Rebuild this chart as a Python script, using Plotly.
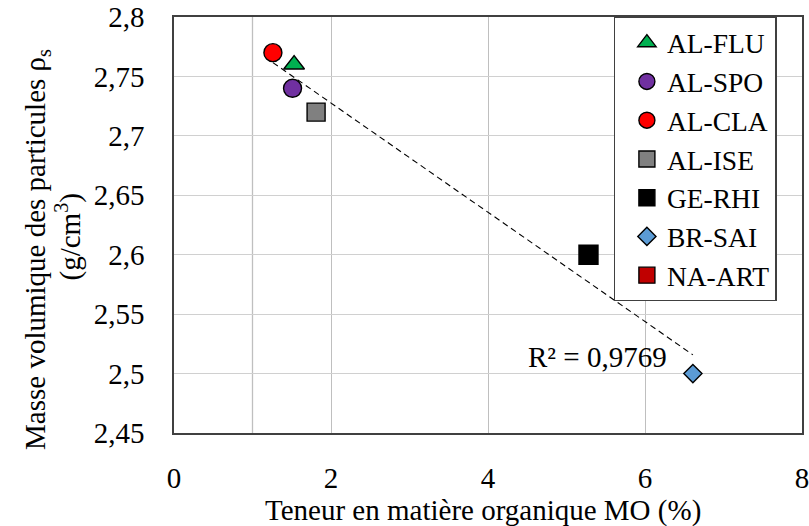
import numpy as np
import plotly.graph_objects as go

# données
samples = ["AL-FLU", "AL-SPO", "AL-CLA", "AL-ISE", "GE-RHI", "BR-SAI", "NA-ART"]
mo = [1.53, 1.51, 1.26, 1.81, 5.28, 6.61, None]          # teneur en MO (%)
rho = [2.76, 2.74, 2.77, 2.72, 2.60, 2.50, None]         # masse volumique (g/cm3)
r2_label = "R² = 0,9769"

x_ticks = [0, 2, 4, 6, 8]
x_ticktext = ["0", "2", "4", "6", "8"]
y_ticks = [2.45, 2.5, 2.55, 2.6, 2.65, 2.7, 2.75, 2.8]
y_ticktext = ["2,45", "2,5", "2,55", "2,6", "2,65", "2,7", "2,75", "2,8"]

# style des marqueurs (symbole, couleur, taille)
styles = {
    "AL-FLU": ("triangle-up", "#00B050", 18),
    "AL-SPO": ("circle", "#7030A0", 18),
    "AL-CLA": ("circle", "#FF0000", 18),
    "AL-ISE": ("square", "#808080", 18),
    "GE-RHI": ("square", "#000000", 19),
    "BR-SAI": ("diamond", "#5B9BD5", 14),
    "NA-ART": ("square", "#C00000", 18),
}

FONT = "Times New Roman, Liberation Serif, serif"
FS = 29

fig = go.Figure()

for name, x, y in zip(samples, mo, rho):
    sym, col, size = styles[name]
    fig.add_trace(go.Scatter(
        x=[x], y=[y], name=name, mode="markers",
        marker=dict(symbol=sym, color=col, size=size,
                    line=dict(color="black", width=1.4)),
    ))

# courbe de tendance linéaire
xs = np.array([v for v in mo if v is not None])
ys = np.array([v for v in rho if v is not None])
a, b = np.polyfit(xs, ys, 1)
xl = np.array([xs.min(), xs.max()])
fig.add_trace(go.Scatter(
    x=xl, y=a * xl + b, mode="lines", showlegend=False, hoverinfo="skip",
    line=dict(color="black", width=1.1, dash="6px,4px"),
))

fig.add_annotation(
    text=r2_label, x=6.31, y=2.514, xanchor="right", yanchor="middle",
    showarrow=False, font=dict(family=FONT, size=FS, color="black"),
)

# titre de l'axe X
fig.add_annotation(
    text="Teneur en matière organique MO (%)",
    xref="paper", yref="paper", x=0.4917, y=0, yshift=-77,
    xanchor="center", yanchor="middle", showarrow=False,
    font=dict(family=FONT, size=FS, color="black"),
)

# titre de l'axe Y (deux lignes, rapprochées comme dans l'original)
fig.add_annotation(
    text="Masse volumique des particules ρ<sub>s</sub>",
    xref="paper", yref="paper", x=0, y=0.44, xshift=-137,
    xanchor="center", yanchor="middle", textangle=-90, showarrow=False,
    font=dict(family=FONT, size=FS, color="black"),
)
fig.add_annotation(
    text="(g/cm<sup>3</sup>)",
    xref="paper", yref="paper", x=0, y=0.47, xshift=-106,
    xanchor="center", yanchor="middle", textangle=-90, showarrow=False,
    font=dict(family=FONT, size=FS, color="black"),
)

# grille verticale supplémentaire à x=1
fig.add_vline(x=1, line=dict(color="#BFBFBF", width=1.3), layer="below")

fig.update_layout(
    width=809, height=526,
    margin=dict(l=174, r=7, t=17, b=93),
    paper_bgcolor="white", plot_bgcolor="white",
    font=dict(family=FONT, size=FS, color="black"),
    showlegend=True,
    legend=dict(
        x=0.7, y=1, xanchor="left", yanchor="top",
        bgcolor="white", bordercolor="#404040", borderwidth=1.3,
        font=dict(family=FONT, size=27.5, color="black"),
        indentation=12, tracegroupgap=0,
    ),
)

fig.update_xaxes(
    range=[0, 8], tickvals=x_ticks, ticktext=x_ticktext,
    showgrid=True, gridcolor="#BFBFBF", gridwidth=1.3,
    showline=True, linecolor="#404040", linewidth=1.5, mirror=True,
    zeroline=False, ticks="", ticklabelstandoff=18, automargin=False,
    ticklabeloverflow="allow",
)
fig.update_yaxes(
    range=[2.45, 2.8], tickvals=y_ticks, ticktext=y_ticktext,
    showgrid=True, gridcolor="#D0D0D0", gridwidth=1.3,
    showline=True, linecolor="#404040", linewidth=1.5, mirror=True,
    zeroline=False, ticks="", ticklabelstandoff=22, automargin=False,
)

fig.write_html("out.html", config={"displayModeBar": False},
               post_script="document.body.style.margin='0px';")
